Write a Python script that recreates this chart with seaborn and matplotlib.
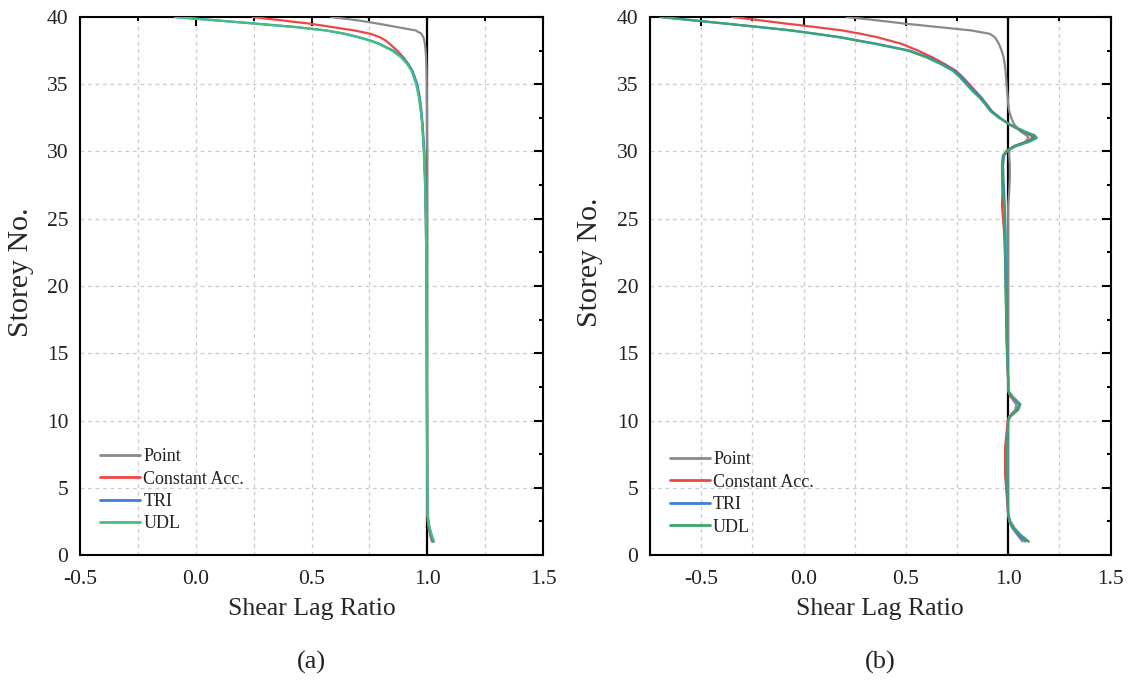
import numpy as np
import pandas as pd
import matplotlib
matplotlib.use("Agg")
import matplotlib.pyplot as plt
import seaborn as sns
from matplotlib.ticker import MultipleLocator

# ---------------- data ----------------
series_names = ["Point", "Constant Acc.", "TRI", "UDL"]

# Panel (a)
storey_a = [40, 39.75, 39.5, 39.25, 39, 38.75, 38.5, 38.25, 38, 37.5, 37, 36.5, 36, 35, 34, 33, 32,
            30, 28, 25, 20, 15, 10, 5, 3, 2.5, 2, 1.5, 1]
point_a = [0.585, 0.70, 0.79, 0.87, 0.95, 0.975, 0.983, 0.987, 0.99, 0.993, 0.995, 0.996, 0.997, 0.998,
           0.998, 0.999, 0.999, 1.0, 1.0, 1.0, 1.0, 1.0, 1.0, 1.0, 1.0, 1.002, 1.006, 1.012, 1.02]
const_a = [0.245, 0.37, 0.495, 0.59, 0.685, 0.755, 0.795, 0.82, 0.838, 0.87, 0.897, 0.918, 0.935, 0.955,
           0.966, 0.973, 0.979, 0.986, 0.99, 0.994, 0.997, 0.998, 0.999, 1.0, 1.001, 1.004, 1.009, 1.016, 1.024]
tri_a = [-0.09, 0.09, 0.265, 0.435, 0.565, 0.645, 0.705, 0.755, 0.795, 0.853, 0.892, 0.918, 0.936, 0.957,
         0.968, 0.975, 0.98, 0.987, 0.991, 0.994, 0.997, 0.998, 0.999, 1.0, 1.002, 1.005, 1.01, 1.017, 1.026]
udl_a = [-0.09, 0.085, 0.26, 0.43, 0.56, 0.64, 0.70, 0.75, 0.79, 0.848, 0.887, 0.913, 0.932, 0.952,
         0.964, 0.972, 0.978, 0.985, 0.99, 0.994, 0.997, 0.998, 0.999, 1.0, 1.002, 1.005, 1.011, 1.019, 1.03]

# Panel (b)
storey_b = [40, 39.75, 39.5, 39.25, 39, 38.75, 38.5, 38, 37.5, 37, 36.5, 36, 35.5, 35, 34.5, 34,
            33.5, 33, 32.5, 32, 31.5, 31.2, 31, 30.7, 30.4, 30.1, 29.7, 29, 28, 27, 26, 25, 24,
            22, 20, 18, 16, 14, 13, 12.2, 11.8, 11.2, 10.8, 10.3, 10, 8, 6, 4, 3, 2.5, 2, 1.5, 1]
point_b = [0.21, 0.36, 0.50, 0.66, 0.82, 0.91, 0.935, 0.955, 0.968, 0.978, 0.983, 0.987, 0.99,
           0.992, 0.995, 0.998, 1.0, 1.005, 1.015, 1.03, 1.06, 1.09, 1.10, 1.08, 1.03, 1.005,
           1.005, 1.008, 1.008, 1.005, 1.0, 1.0, 1.0, 1.0, 1.0, 1.0, 1.0, 1.0, 1.0, 1.0, 1.01,
           1.04, 1.035, 1.005, 1.0, 1.0, 1.0, 1.0, 1.0, 1.005, 1.02, 1.045, 1.07]
const_b = [-0.35, -0.21, -0.08, 0.06, 0.19, 0.28, 0.36, 0.48, 0.56, 0.63, 0.69, 0.745, 0.78,
           0.81, 0.84, 0.87, 0.895, 0.92, 0.96, 1.005, 1.07, 1.11, 1.12, 1.09, 1.03, 0.995,
           0.975, 0.97, 0.97, 0.972, 0.97, 0.975, 0.98, 0.985, 0.988, 0.99, 0.992, 0.997, 1.0,
           1.0, 1.015, 1.055, 1.045, 1.01, 0.998, 0.985, 0.985, 0.995, 1.0, 1.01, 1.03, 1.06, 1.10]
tri_b = [-0.70, -0.535, -0.37, -0.21, -0.055, 0.065, 0.18, 0.36, 0.52, 0.61, 0.68, 0.74, 0.775,
         0.805, 0.835, 0.868, 0.895, 0.92, 0.96, 1.01, 1.07, 1.12, 1.13, 1.09, 1.03, 1.0,
         0.98, 0.975, 0.977, 0.98, 0.983, 0.985, 0.987, 0.988, 0.99, 0.992, 0.994, 0.998, 1.0,
         1.0, 1.02, 1.055, 1.045, 1.01, 1.0, 0.995, 0.995, 0.998, 1.0, 1.008, 1.025, 1.05, 1.085]
udl_b = [-0.70, -0.54, -0.38, -0.22, -0.065, 0.055, 0.17, 0.35, 0.51, 0.60, 0.67, 0.73, 0.765,
         0.795, 0.825, 0.86, 0.888, 0.913, 0.955, 1.01, 1.08, 1.13, 1.14, 1.10, 1.04, 1.0,
         0.975, 0.97, 0.972, 0.975, 0.98, 0.983, 0.985, 0.985, 0.987, 0.99, 0.993, 0.997, 1.0,
         1.0, 1.02, 1.06, 1.05, 1.01, 1.0, 0.995, 0.995, 0.998, 1.0, 1.01, 1.03, 1.06, 1.10]

x_ticks = [-0.5, 0.0, 0.5, 1.0, 1.5]
y_ticks = [0, 5, 10, 15, 20, 25, 30, 35, 40]

palette_a = {"Point": "#8a8a8a", "Constant Acc.": "#f04545", "TRI": "#3b7fd6", "UDL": "#45c07a"}
palette_b = {"Point": "#8a8a8a", "Constant Acc.": "#f04545", "TRI": "#3b7fd6", "UDL": "#3aa66a"}


def to_long(storey, vals):
    rows = []
    for name, v in zip(series_names, vals):
        for s, r in zip(storey, v):
            rows.append({"Storey": s, "Ratio": r, "Load": name})
    return pd.DataFrame(rows)


df_a = to_long(storey_a, [point_a, const_a, tri_a, udl_a])
df_b = to_long(storey_b, [point_b, const_b, tri_b, udl_b])

# ---------------- style ----------------
sns.set_theme(style="white")
plt.rcParams["font.family"] = ["Liberation Serif", "DejaVu Serif"]
plt.rcParams["axes.edgecolor"] = "black"
plt.rcParams["axes.linewidth"] = 1.5
plt.rcParams["text.color"] = "#222222"

fig = plt.figure(figsize=(11.36, 6.8), dpi=100)
ax_a = fig.add_axes([80 / 1136, 1 - 555 / 680, 463 / 1136, 538 / 680])
ax_b = fig.add_axes([650 / 1136, 1 - 555 / 680, 460.5 / 1136, 538 / 680])


def style_axis(ax, df, palette, xlim, legend_anchor, ylabel_pos):
    ax.axvline(1.0, color="black", lw=1.6, zorder=2)
    sns.lineplot(data=df, x="Ratio", y="Storey", hue="Load", hue_order=series_names,
                 palette=palette, orient="y", estimator=None, sort=False, lw=1.6,
                 ax=ax, zorder=3)
    ax.set_xlim(*xlim)
    ax.set_ylim(0, 40)
    ax.set_xticks(x_ticks)
    ax.set_xticklabels([f"{t:.1f}" for t in x_ticks])
    ax.set_yticks(y_ticks)
    ax.xaxis.set_minor_locator(MultipleLocator(0.25))
    ax.yaxis.set_minor_locator(MultipleLocator(2.5))
    ax.tick_params(which="both", direction="in", top=True, right=True, colors="black",
                   labelcolor="#222222", labelsize=15.5, width=1.5)
    ax.tick_params(which="major", length=6.5)
    ax.tick_params(which="minor", length=3.2)
    ax.tick_params(axis="x", which="major", pad=11)
    ax.tick_params(axis="y", which="major", pad=8.5)
    ax.grid(True, which="both", axis="x", color="#cbcbcb", ls=(0, (3, 3)), lw=0.9)
    ax.grid(True, which="major", axis="y", color="#cbcbcb", ls=(0, (3, 3)), lw=0.9)
    ax.set_axisbelow(True)
    ax.set_xlabel("Shear Lag Ratio", fontsize=18.5, labelpad=6)
    ax.set_ylabel("Storey No.", fontsize=21.5)
    ax.yaxis.set_label_coords(*ylabel_pos)
    leg = ax.legend(loc="lower left", bbox_to_anchor=legend_anchor, frameon=False,
                    fontsize=13, handlelength=2.2, handletextpad=0.2,
                    labelspacing=0.3, borderaxespad=0, borderpad=0)
    for line in leg.get_lines():
        line.set_linewidth(2.0)
    for txt in leg.get_texts():
        txt.set_color("#222222")
    return ax


style_axis(ax_a, df_a, palette_a, (-0.5, 1.5), (0.043, 0.042), (-0.10, 0.526))
style_axis(ax_b, df_b, palette_b, (-0.75, 1.5), (0.043, 0.036), (-0.102, 0.545))

fig.text(311.5 / 1136, 1 - 662 / 680, "(a)", ha="center", va="center", fontsize=19, color="#222222")
fig.text(880 / 1136, 1 - 662 / 680, "(b)", ha="center", va="center", fontsize=19, color="#222222")

fig.savefig("out.png", dpi=100)
